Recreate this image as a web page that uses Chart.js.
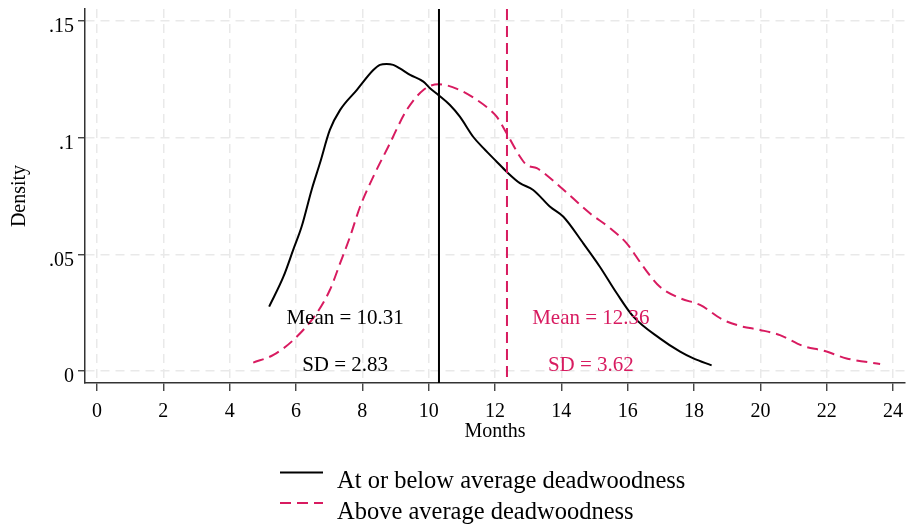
<!DOCTYPE html>
<html><head><meta charset="utf-8">
<script src="https://cdn.jsdelivr.net/npm/chart.js@4"></script>
<style>html,body{margin:0;padding:0;background:#fff}#wrap{width:906px;height:525px;position:relative}</style>
</head><body><div id="wrap"><canvas id="c"></canvas></div>
<script>
// ---- data ----
const seriesLabels = ["At or below average deadwoodness", "Above average deadwoodness"];
const belowX = [5.19,5.62,5.92,6.17,6.47,6.72,7.02,7.33,7.83,8.33,8.53,8.73,8.93,9.13,9.44,9.84,10.04,10.29,10.64,10.94,11.34,11.65,12.05,12.35,12.75,13.15,13.66,14.06,14.66,15.16,15.67,16.17,16.97,17.58,17.98,18.53];
const belowY = [0.0276,0.0404,0.0521,0.0619,0.0776,0.0890,0.1033,0.1119,0.1204,0.1290,0.1312,0.1316,0.1312,0.1297,0.1269,0.1240,0.1212,0.1183,0.1140,0.1090,0.1004,0.0955,0.0897,0.0854,0.0805,0.0776,0.0704,0.0661,0.0547,0.0447,0.0333,0.0233,0.0140,0.0083,0.0054,0.0024];
const aboveX = [4.71,5.32,5.92,6.62,7.02,7.33,7.63,7.93,8.33,8.78,9.34,9.84,10.29,10.94,11.45,11.85,12.05,12.35,12.75,12.95,13.26,13.96,14.86,15.47,15.97,16.47,16.97,17.58,18.18,18.88,19.39,19.99,20.59,21.29,21.90,22.60,23.61];
const aboveY = [0.0036,0.0069,0.0133,0.0247,0.0347,0.0462,0.0576,0.0704,0.0833,0.0961,0.1119,0.1204,0.1229,0.1204,0.1162,0.1119,0.1090,0.1019,0.0919,0.0883,0.0869,0.0790,0.0676,0.0612,0.0547,0.0447,0.0361,0.0312,0.0283,0.0219,0.0193,0.0176,0.0154,0.0107,0.0087,0.0054,0.0030];
const means = [10.31, 12.36];
const sds = [2.83, 3.62];
const xTicks = [0,2,4,6,8,10,12,14,16,18,20,22,24];
const yTicks = [0, 0.05, 0.1, 0.15];
const yTickLabels = ["0", ".05", ".1", ".15"];
const annotX = [7.48, 14.89];
const annotMeanY = 0.0226;
const annotSdY = 0.0024;

// ---- style ----
const FONT = "'Liberation Serif', 'Times New Roman', serif";
const RED = "#d81b60";
const colors = ["#000000", RED];
const dashes = [[], [11, 6]];

const toPts = (xs, ys) => xs.map((x, i) => ({x: x, y: ys[i]}));

const statsPlugin = {
  id: 'stats',
  afterDatasetsDraw(chart) {
    const {ctx, chartArea, scales: {x, y}} = chart;
    ctx.save();
    means.forEach((m, i) => {
      const px = x.getPixelForValue(m);
      ctx.beginPath();
      ctx.strokeStyle = colors[i];
      ctx.lineWidth = 2;
      ctx.setLineDash(dashes[i]);
      ctx.moveTo(px, chartArea.top);
      ctx.lineTo(px, chartArea.bottom);
      ctx.stroke();
    });
    ctx.setLineDash([]);
    ctx.font = "21px " + FONT;
    ctx.textAlign = 'center';
    ctx.textBaseline = 'middle';
    means.forEach((m, i) => {
      ctx.fillStyle = colors[i];
      const px = x.getPixelForValue(annotX[i]);
      ctx.fillText("Mean = " + m.toFixed(2), px, y.getPixelForValue(annotMeanY));
      ctx.fillText("SD = " + sds[i].toFixed(2), px, y.getPixelForValue(annotSdY));
    });
    ctx.restore();
  },
  afterDraw(chart) {
    const ctx = chart.ctx;
    ctx.save();
    ctx.font = "24.5px " + FONT;
    ctx.textAlign = 'left';
    ctx.textBaseline = 'alphabetic';
    const lineY = [472.5, 503];
    const baseY = [487.5, 518.5];
    chart.data.datasets.forEach((ds, i) => {
      ctx.beginPath();
      ctx.strokeStyle = ds.borderColor;
      ctx.lineWidth = 2;
      ctx.setLineDash(ds.borderDash || []);
      ctx.moveTo(280, lineY[i]);
      ctx.lineTo(323, lineY[i]);
      ctx.stroke();
      ctx.setLineDash([]);
      ctx.fillStyle = '#000';
      ctx.fillText(ds.label, 337, baseY[i]);
    });
    ctx.restore();
  }
};

new Chart(document.getElementById('c'), {
  type: 'line',
  data: {
    datasets: [
      {label: seriesLabels[0], data: toPts(belowX, belowY), borderColor: colors[0], borderWidth: 2, borderDash: dashes[0], pointRadius: 0, fill: false, cubicInterpolationMode: 'monotone'},
      {label: seriesLabels[1], data: toPts(aboveX, aboveY), borderColor: colors[1], borderWidth: 2, borderDash: dashes[1], pointRadius: 0, fill: false, cubicInterpolationMode: 'monotone'}
    ]
  },
  options: {
    responsive: true,
    maintainAspectRatio: false,
    animation: false,
    layout: {padding: {top: 9, right: 1, left: 0, bottom: 0}},
    plugins: {legend: {display: false}, tooltip: {enabled: false}},
    scales: {
      x: {
        type: 'linear',
        min: -0.362, max: 24.36,
        afterBuildTicks: s => { s.ticks = xTicks.map(v => ({value: v})); },
        afterFit: s => { s.height = 142; s.paddingLeft = 0; s.paddingRight = 0; },
        grid: {color: '#e9e9e9', lineWidth: 1.5, tickColor: '#333', tickLength: 8, tickWidth: 1.3, tickBorderDash: []},
        border: {display: true, color: '#333', width: 1.5, dash: [9, 6]},
        ticks: {color: '#000', font: {family: FONT, size: 20}, padding: 9, maxRotation: 0, autoSkip: false},
        title: {display: true, text: 'Months', color: '#000', font: {family: FONT, size: 20}, padding: {top: 0, bottom: 81}}
      },
      y: {
        type: 'linear',
        min: -0.00514, max: 0.15514,
        afterBuildTicks: s => { s.ticks = yTicks.map(v => ({value: v})); },
        afterFit: s => { s.width = 85; s.paddingTop = 0; s.paddingBottom = 0; },
        grid: {color: '#e9e9e9', lineWidth: 1.5, tickColor: '#333', tickLength: 7, tickWidth: 1.3, tickBorderDash: []},
        border: {display: true, color: '#333', width: 1.5, dash: [9, 6]},
        ticks: {color: '#000', font: {family: FONT, size: 20}, padding: 4, labelOffset: 6,
          callback: (v) => { const i = yTicks.indexOf(v); return i >= 0 ? yTickLabels[i] : ''; }},
        title: {display: true, text: 'Density', color: '#000', font: {family: FONT, size: 20}, padding: {top: 8, bottom: 0}}
      }
    }
  },
  plugins: [statsPlugin]
});
</script>
</body></html>
